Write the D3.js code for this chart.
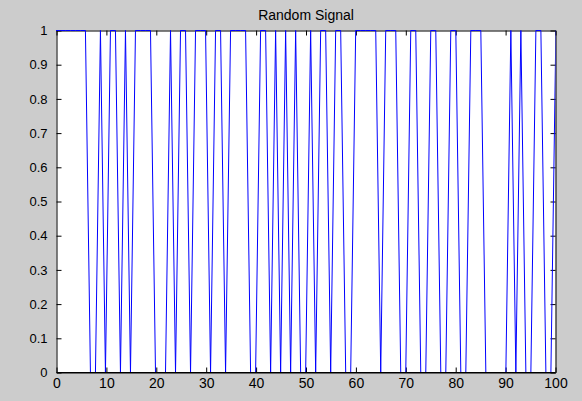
<!DOCTYPE html>
<html>
<head>
<meta charset="utf-8">
<script src="https://cdn.jsdelivr.net/npm/d3@7/dist/d3.min.js"></script>
<style>
body { margin: 0; background: #cccccc; }
svg { display: block; font-family: "Liberation Sans", Arial, sans-serif; }
</style>
</head>
<body>
<div id="chart"></div>
<script>
var bits = [
    1,1,1,1,1,1,1, 0,0, 1, 0, 1,1, 0, 1, 0, 1,1,1,1,
    0,0,0, 1, 0, 1,1, 0, 1,1,1, 0, 1,1, 0, 1,1,1,1,
    0,0, 1,1, 0, 1, 0, 1, 0, 1, 0,0, 1, 0, 1,1, 0, 1,1,
    0,0, 1,1,1,1,1, 0, 1,1,1, 0,0, 1,1, 0,0, 1,1, 0,0,
    1,1, 0,0, 1,1,1, 0,0,0,0,0, 1, 0, 1, 0,0, 1,1, 0,0, 1,1
];
// sample grid: first sample time and spacing
var tStart = -0.22,
    tStep = 1.003;

var xTicks = [0, 10, 20, 30, 40, 50, 60, 70, 80, 90, 100];
var yTicks = [0, 0.1, 0.2, 0.3, 0.4, 0.5, 0.6, 0.7, 0.8, 0.9, 1];
var title = "Random Signal";

var margin = {top: 30.5, right: 26.5, bottom: 28.5, left: 56.5},
    width = 582 - margin.left - margin.right,
    height = 401 - margin.top - margin.bottom;

var svg = d3.select("#chart").append("svg")
    .attr("width", 582)
    .attr("height", 401);

svg.append("rect")
    .attr("width", 582)
    .attr("height", 401)
    .attr("fill", "#cccccc");

var g = svg.append("g")
    .attr("transform", "translate(" + margin.left + "," + margin.top + ")");

var x = d3.scaleLinear().domain([0, 100]).range([0, width]);
var y = d3.scaleLinear().domain([0, 1]).range([height, 0]);

g.append("rect")
    .attr("width", width)
    .attr("height", height)
    .attr("fill", "white");

svg.append("defs").append("clipPath")
    .attr("id", "clip")
    .append("rect")
    .attr("x", -0.5)
    .attr("y", -1)
    .attr("width", width + 0.5)
    .attr("height", height + 1);

var fmt = d3.format("~g");

// frame with inward ticks on all four sides
g.append("g")
    .attr("transform", "translate(0," + height + ")")
    .call(d3.axisBottom(x).tickValues(xTicks).tickSizeInner(-5).tickSizeOuter(0).tickPadding(6).tickFormat(fmt))
    .attr("class", "xaxis");
g.append("g")
    .call(d3.axisLeft(y).tickValues(yTicks).tickSizeInner(-5).tickSizeOuter(0).tickPadding(9).tickFormat(fmt))
    .attr("class", "yaxis");
g.append("g")
    .call(d3.axisTop(x).tickValues(xTicks).tickSizeInner(-5).tickSizeOuter(0).tickFormat(""));
g.append("g")
    .attr("transform", "translate(" + width + ",0)")
    .call(d3.axisRight(y).tickValues(yTicks).tickSizeInner(-5).tickSizeOuter(0).tickFormat(""));

g.selectAll(".domain").attr("stroke", "black");
g.selectAll(".tick line").attr("stroke", "black");
g.selectAll(".xaxis text").attr("font-size", 14).attr("fill", "black")
    .attr("font-family", "'Liberation Sans', Arial, sans-serif");
g.selectAll(".yaxis text").attr("font-size", 13).attr("fill", "black")
    .attr("font-family", "'Liberation Sans', Arial, sans-serif");

var line = d3.line()
    .x(function (d, i) { return x(tStart + i * tStep); })
    .y(function (d) { return y(d); });

g.append("path")
    .datum(bits)
    .attr("clip-path", "url(#clip)")
    .attr("fill", "none")
    .attr("stroke", "#0000ff")
    .attr("stroke-width", 1)
    .attr("d", line);

// bottom edge sits over the zero level
g.append("line")
    .attr("x1", 0)
    .attr("x2", width)
    .attr("y1", height)
    .attr("y2", height)
    .attr("stroke", "black");

svg.append("text")
    .attr("x", margin.left + width / 2)
    .attr("y", 20)
    .attr("text-anchor", "middle")
    .attr("font-size", 14)
    .text(title);
</script>
</body>
</html>
